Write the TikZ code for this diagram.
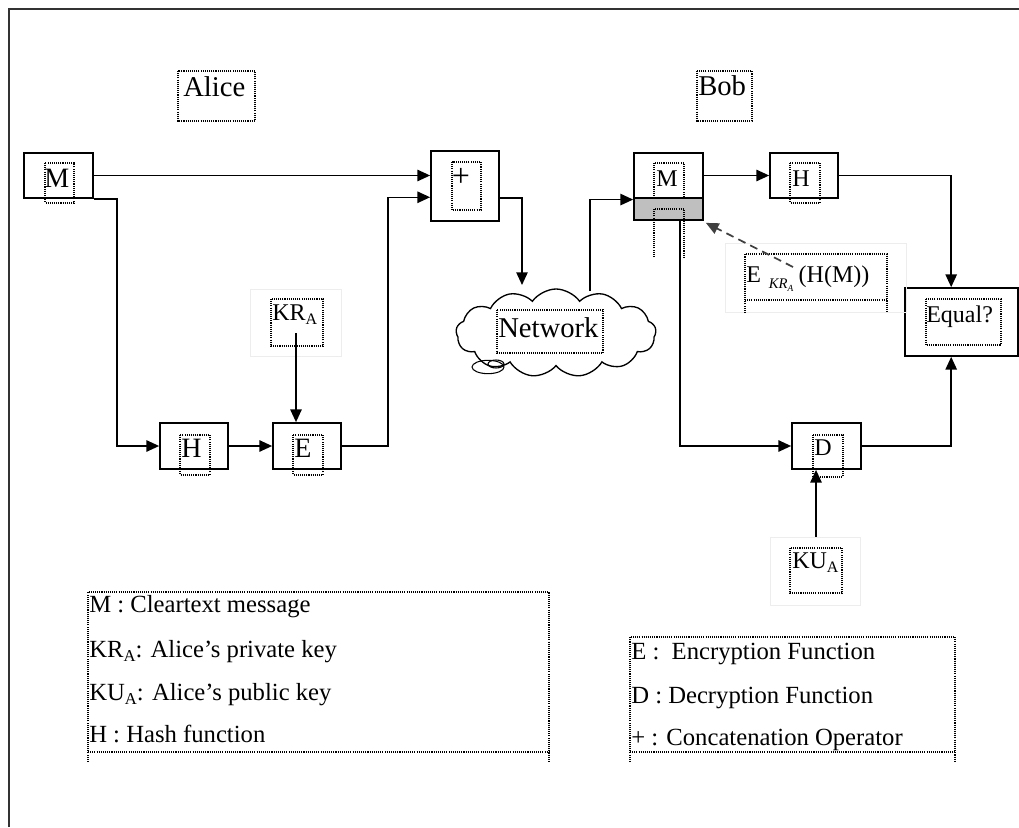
\documentclass[tikz,border=0pt]{standalone}
\usepackage{fontspec}
\setmainfont{Liberation Serif}
\usetikzlibrary{arrows.meta,shapes.symbols,calc}
\begin{document}
\begin{tikzpicture}[x=0.75pt,y=-0.75pt,
  box/.style={draw,line width=1.3pt,inner sep=0pt,fill=white},
  frm/.style={draw,line width=0.8pt,dash pattern=on 0.8pt off 0.8pt},
  faint/.style={draw=black!7,line width=0.6pt,inner sep=0pt},
  conn/.style={line width=1.1pt,-{Triangle[length=9.5pt,width=8.5pt]}},
  dconn/.style={line width=1.3pt,black!75,dash pattern=on 6pt off 4pt,-{Triangle[length=9.5pt,width=8.5pt]}},
  lbl/.style={inner sep=0pt,anchor=base west},
  big/.style={font=\fontsize{21.5}{24}\selectfont},
  mid/.style={font=\fontsize{21}{24}\selectfont},
  sml/.style={font=\fontsize{18}{20}\selectfont},
  leg/.style={font=\fontsize{18.5}{21}\selectfont},
]
\useasboundingbox (0,0) rectangle (1019,827);
\draw[line width=1.8pt,black!80] (9,827) -- (9,9) -- (1019,9);

% boxes
\node[box,minimum width=51.75pt,minimum height=33.75pt] (mA) at (58.5,175.5) {};
\node[box,minimum width=51pt,minimum height=52.5pt] (plus) at (465,186) {};
\node[box,minimum width=51pt,minimum height=34.5pt] (hA) at (194,446) {};
\node[box,minimum width=51pt,minimum height=34.5pt] (eA) at (307,446) {};
\node[box,minimum width=51.75pt,minimum height=50.25pt,
  path picture={\fill[black!25] ($(path picture bounding box.south west)!0.33!(path picture bounding box.north west)$) rectangle (path picture bounding box.south east);}] (mB) at (668.5,186.5) {};
\draw[line width=1.3pt] ($(mB.south west)!0.33!(mB.north west)$) -- ($(mB.south east)!0.33!(mB.north east)$);
\node[box,minimum width=51pt,minimum height=33.75pt] (hB) at (804,175.5) {};
\node[box,minimum width=84.75pt,minimum height=51pt] (eq) at (961.5,322) {};
\node[box,minimum width=51.75pt,minimum height=34.5pt] (dB) at (826.5,446) {};

% faint text-box outlines
\node[faint,minimum width=68.25pt,minimum height=50.25pt] (kra) at (295.5,322.5) {};
\node[faint,minimum width=67.5pt,minimum height=51pt] (kua) at (815,571) {};
\node[faint,minimum width=135.75pt,minimum height=51.75pt] (ekra) at (815.5,277.5) {};

% cloud
\node[cloud,draw,fill=white,line width=1pt,cloud puffs=13,cloud puff arc=110,aspect=2.2,
  minimum width=150pt,minimum height=66pt,inner sep=0pt] (net) at (556,333) {};
\draw[line width=0.8pt] (488,367) ellipse [x radius=12pt,y radius=5pt];
\draw[line width=0.8pt] (496,364) ellipse [x radius=6pt,y radius=3pt];
\coordinate (netin) at (522,285);
\coordinate (netout) at (590,291);

% dotted frames
\draw[frm] (178,71) rectangle (255,121);
\draw[frm] (697,71) rectangle (752,121);
\draw[frm] (45,163) rectangle (74,203);
\draw[frm] (452,162) rectangle (481,210);
\draw[frm] (180,435) rectangle (210,475);
\draw[frm] (293,435) rectangle (323,475);
\draw[frm] (271,299) rectangle (323,346);
\draw[frm] (497,310) rectangle (603,353);
\draw[frm] (654,163) rectangle (684,198);
\draw[frm] (654,257) -- (654,209) -- (684,209) -- (684,257);
\draw[frm] (790,163) rectangle (820,203);
\draw[frm] (745,313) -- (745,254) -- (887,254) -- (887,313);
\draw[frm] (745,300) -- (887,300);
\draw[frm] (926,299) rectangle (1001,345);
\draw[frm] (813,435) rectangle (843,477);
\draw[frm] (790,548) rectangle (842,593);
\draw[frm] (88,762) -- (88,592) -- (549,592) -- (549,762);
\draw[frm] (88,752) -- (549,752);
\draw[frm] (630,762) -- (630,637) -- (955,637) -- (955,762);
\draw[frm] (630,752) -- (955,752);

% texts
\node[lbl,big] (alice) at (183,97) {Alice};
\node[lbl,big] (bob) at (698,96) {Bob};
\node[lbl,mid] (tmA) at (44,188) {M};
\node[inner sep=0pt,font=\fontsize{24}{24}\selectfont] (tplus) at (461,177) {+};
\node[lbl,mid] (thA) at (181,457) {H};
\node[lbl,mid] (teA) at (294,457) {E};
\node[lbl,sml] (tkra) at (272,320) {KR\raisebox{-3pt}{\fontsize{12}{12}\selectfont A}};
\node[lbl,big] (tnet) at (498,337) {Network};
\node[lbl,sml] (tmB) at (656,187) {M};
\node[lbl,sml] (thB) at (792,187) {H};
\node[lbl,sml] (tekra) at (746,282) {E\hspace{6pt}\raisebox{-5pt}{\fontsize{11}{11}\selectfont\itshape KR\raisebox{-2pt}{\fontsize{7}{7}\selectfont A}}\hspace{4pt}(H(M))};
\node[lbl,sml] (teq) at (926,322) {Equal?};
\node[lbl,sml] (tdB) at (814,455) {D};
\node[lbl,sml] (tkua) at (792,568) {KU\raisebox{-3pt}{\fontsize{12}{12}\selectfont A}};

% legends
\node[lbl,leg] (l1) at (89,612) {M : Cleartext message};
\node[lbl,leg] (l2) at (89,657) {KR\raisebox{-3pt}{\fontsize{12.5}{12}\selectfont A}: Alice’s private key};
\node[lbl,leg] (l3) at (89,700) {KU\raisebox{-3pt}{\fontsize{12.5}{12}\selectfont A}: Alice’s public key};
\node[lbl,leg] (l4) at (89,742) {H : Hash function};
\node[lbl,leg] (r1) at (631,659) {E :\ \ Encryption Function};
\node[lbl,leg] (r2) at (631,703) {D : Decryption Function};
\node[lbl,leg] (r3) at (631,745) {+ : Concatenation Operator};

% connectors
\draw[conn] (mA.east) -- (mA.east -| plus.west);
\draw[conn] (mA.south east) -- ++(23,0) |- (hA.west);
\draw[conn] (hA.east) -- (eA.west);
\draw[conn] ([shift={(0.5,10.5)}]kra.center) coordinate (k1) -- (k1 |- eA.north);
\draw[conn] (eA.east) -- ++(46,0) |- ($(plus.north west)!0.657!(plus.south west)$);
\draw[conn] ($(plus.north east)!0.67!(plus.south east)$) -| (netin);
\draw[conn] (netout) |- ($(mB.north west)!0.69!(mB.south west)$);
\draw[conn] (hB.west -| mB.east) -- (hB.west);
\draw[conn] (hB.east) -| ($(eq.north west)!0.41!(eq.north east)$);
\draw[conn] ($(mB.south west)!0.66!(mB.south east)$) |- (dB.west);
\draw[conn] (dB.east) -| ($(eq.south west)!0.41!(eq.south east)$);
\draw[conn] ([xshift=0.75pt]kua.north) coordinate (u1) -- (u1 |- dB.south);
\draw[dconn] ([shift={(-22.5,-10.5)}]ekra.center) -- ([shift={(2,2)}]mB.south east);
\end{tikzpicture}
\end{document}
